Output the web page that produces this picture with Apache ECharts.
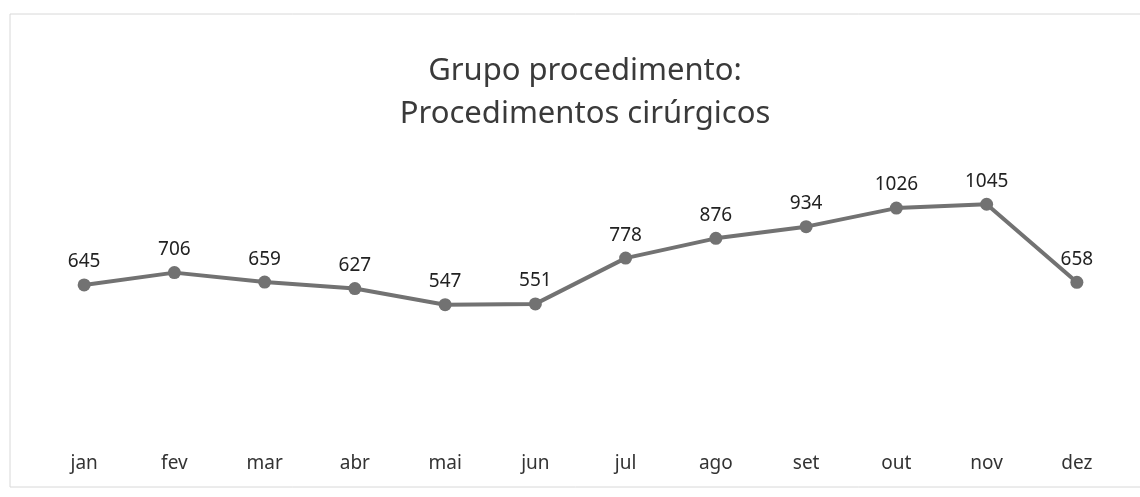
<!DOCTYPE html>
<html>
<head>
<meta charset="utf-8">
<script src="https://cdn.jsdelivr.net/npm/echarts@6/dist/echarts.min.js"></script>
<style>
  html, body { margin: 0; padding: 0; background: #fff; }
  #chart { width: 1140px; height: 497px; }
</style>
</head>
<body>
<div id="chart"></div>
<script>
// months and monthly totals
let months = ['jan', 'fev', 'mar', 'abr', 'mai', 'jun', 'jul', 'ago', 'set', 'out', 'nov', 'dez'];
let totals = [645, 706, 659, 627, 547, 551, 778, 876, 934, 1026, 1045, 658];

let myChart = echarts.init(document.getElementById('chart'));

let option = {
    backgroundColor: '#fff',
    title: {
        text: 'Grupo procedimento:\nProcedimentos cirúrgicos',
        left: 580,
        textAlign: 'center',
        top: 45,
        textStyle: {
            fontFamily: 'Noto Sans',
            fontSize: 31,
            fontWeight: 'normal',
            color: '#3a3a3a',
            lineHeight: 43
        }
    },
    graphic: [{
        type: 'rect',
        shape: { x: 10, y: 14, width: 1140, height: 473 },
        style: { fill: 'none', stroke: '#d8d8d8', lineWidth: 1 },
        silent: true
    }],
    grid: {
        left: 39,
        right: 18,
        top: 173,
        bottom: 82
    },
    xAxis: {
        type: 'category',
        data: months,
        boundaryGap: true,
        axisLine: { show: false },
        axisTick: { show: false },
        axisLabel: {
            margin: 39,
            fontFamily: 'Noto Sans',
            fontSize: 19,
            color: '#333'
        }
    },
    yAxis: {
        type: 'value',
        min: 0,
        max: 1200,
        show: false,
        splitLine: { show: false }
    },
    series: [{
        type: 'line',
        data: totals,
        symbol: 'circle',
        symbolSize: 13,
        lineStyle: { color: '#727272', width: 4 },
        itemStyle: { color: '#727272' },
        label: {
            show: true,
            position: 'top',
            distance: 7,
            fontFamily: 'Noto Sans',
            fontSize: 19,
            color: '#222'
        },
        animation: false
    }]
};
myChart.setOption(option);
</script>
</body>
</html>
